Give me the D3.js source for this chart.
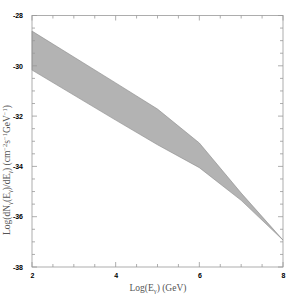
<!DOCTYPE html>
<html>
<head>
<meta charset="utf-8">
<script src="https://cdn.jsdelivr.net/npm/d3@7"></script>
<style>
  body { margin: 0; background: #fff; }
  .tick text { font-family: "Liberation Sans", Arial, sans-serif; font-weight: bold; font-size: 7px; fill: #000; }
  .axis-title { font-family: "Liberation Serif", "Times New Roman", serif; font-size: 9.5px; fill: #555; }
</style>
</head>
<body>
<div id="chart"></div>
<script>
// band edges
var logE = [2, 4, 5, 6, 7, 8];
var upper = [-28.62, -30.68, -31.72, -33.07, -35.06, -36.93];
var lower = [-30.17, -32.16, -33.14, -34.05, -35.35, -36.93];

var xTicks = [2, 4, 6, 8];
var yTicks = [-38, -36, -34, -32, -30, -28];

var width = 299, height = 296;
var margin = {top: 15.5, right: 16, bottom: 29, left: 32};

var svg = d3.select('#chart')
  .append('svg')
  .attr('width', width)
  .attr('height', height);

var x = d3.scaleLinear().domain([2, 8]).range([margin.left, width - margin.right]);
var y = d3.scaleLinear().domain([-38, -28]).range([height - margin.bottom, margin.top]);

var band = logE.map(function(e, i) { return {e: e, hi: upper[i], lo: lower[i]}; });

var area = d3.area()
  .x(function(d) { return x(d.e); })
  .y0(function(d) { return y(d.lo); })
  .y1(function(d) { return y(d.hi); });

svg.append('path')
  .datum(band)
  .attr('d', area)
  .attr('fill', '#b3b3b3')
  .attr('stroke', '#8a8a8a')
  .attr('stroke-width', 0.6);

var minorX = d3.range(2, 8.01, 0.5);
var minorY = d3.range(-38, -27.99, 0.5);

function tickLines(g, vals, scale, orient) {
  vals.forEach(function(v) {
    var major = Math.abs(v - Math.round(v / 2) * 2) < 1e-6;
    var len = major ? 5 : 3;
    var p = scale(v);
    var line = g.append('line').attr('stroke', '#999').attr('stroke-width', 0.8);
    if (orient === 'bottom') line.attr('x1', p).attr('x2', p).attr('y1', y.range()[0]).attr('y2', y.range()[0] - len);
    if (orient === 'top') line.attr('x1', p).attr('x2', p).attr('y1', y.range()[1]).attr('y2', y.range()[1] + len);
    if (orient === 'left') line.attr('y1', p).attr('y2', p).attr('x1', x.range()[0]).attr('x2', x.range()[0] + len);
    if (orient === 'right') line.attr('y1', p).attr('y2', p).attr('x1', x.range()[1]).attr('x2', x.range()[1] - len);
  });
}

var frame = svg.append('g');
frame.append('rect')
  .attr('x', x.range()[0]).attr('y', y.range()[1])
  .attr('width', x.range()[1] - x.range()[0])
  .attr('height', y.range()[0] - y.range()[1])
  .attr('fill', 'none').attr('stroke', '#999').attr('stroke-width', 0.8);

tickLines(frame, minorX, x, 'bottom');
tickLines(frame, minorX, x, 'top');
tickLines(frame, minorY, y, 'left');
tickLines(frame, minorY, y, 'right');

// labels via d3 axes, lines hidden
var xAxis = svg.append('g')
  .attr('transform', 'translate(0,' + y.range()[0] + ')')
  .call(d3.axisBottom(x).tickValues(xTicks).tickSize(0).tickPadding(6).tickFormat(d3.format('d')));
xAxis.select('.domain').remove();

var yAxis = svg.append('g')
  .attr('transform', 'translate(' + x.range()[0] + ',0)')
  .call(d3.axisLeft(y).tickValues(yTicks).tickSize(0).tickPadding(9).tickFormat(function(d) { return '-' + Math.abs(d); }));
yAxis.select('.domain').remove();

// axis titles
var xt = svg.append('text')
  .attr('class', 'axis-title')
  .attr('x', 158).attr('y', 291)
  .attr('text-anchor', 'middle');
xt.append('tspan').text('Log(E');
xt.append('tspan').attr('font-size', '6.5px').attr('dy', 2).text('γ');
xt.append('tspan').attr('dy', -2).text(')  (GeV)');

var yt = svg.append('text')
  .attr('class', 'axis-title')
  .attr('transform', 'translate(10,170) rotate(-90)')
  .attr('text-anchor', 'middle');
yt.append('tspan').text('Log(dN');
yt.append('tspan').attr('font-size', '6.5px').attr('dy', 2).text('γ');
yt.append('tspan').attr('dy', -2).text('(E');
yt.append('tspan').attr('font-size', '6.5px').attr('dy', 2).text('γ');
yt.append('tspan').attr('dy', -2).text(')/dE');
yt.append('tspan').attr('font-size', '6.5px').attr('dy', 2).text('γ');
yt.append('tspan').attr('dy', -2).text(')  (cm');
yt.append('tspan').attr('font-size', '6.5px').attr('dy', -3).text('−2');
yt.append('tspan').attr('dy', 3).text('s');
yt.append('tspan').attr('font-size', '6.5px').attr('dy', -3).text('−1');
yt.append('tspan').attr('dy', 3).text('GeV');
yt.append('tspan').attr('font-size', '6.5px').attr('dy', -3).text('−1');
yt.append('tspan').attr('dy', 3).text(')');
</script>
</body>
</html>
